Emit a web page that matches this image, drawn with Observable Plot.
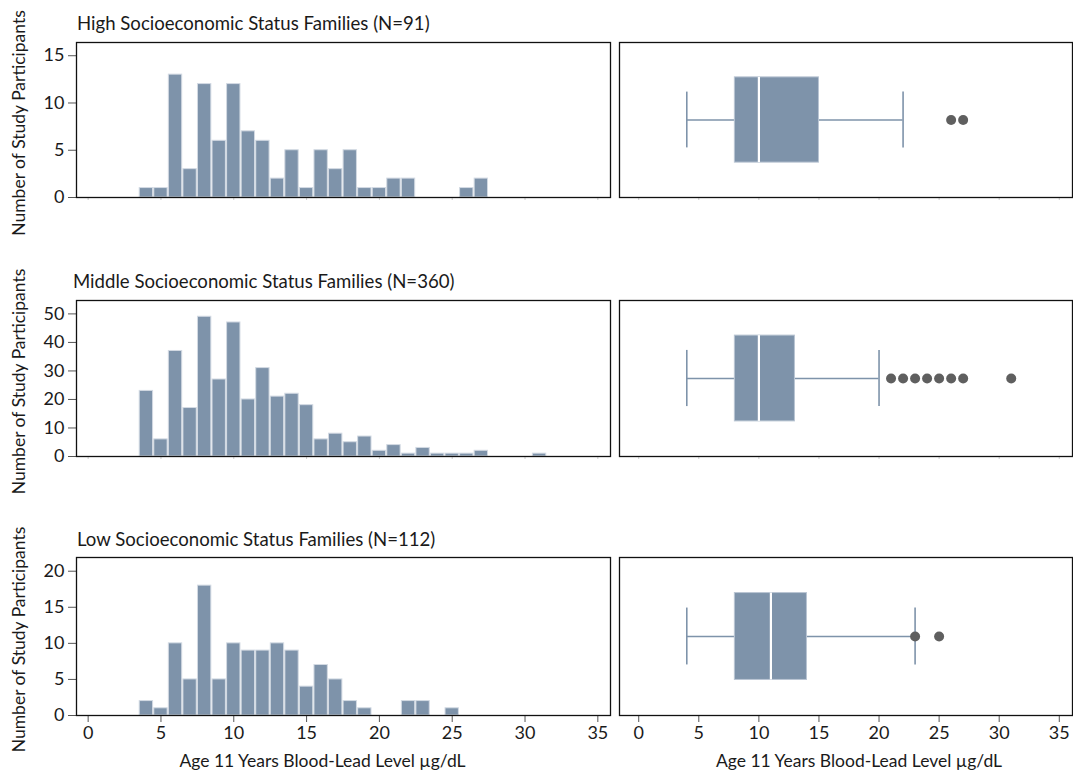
<!DOCTYPE html>
<html>
<head>
<meta charset="utf-8">
<script src="https://cdn.jsdelivr.net/npm/d3@7"></script>
<script src="https://cdn.jsdelivr.net/npm/@observablehq/plot@0.6"></script>
<style>
  html, body { margin: 0; padding: 0; background: #fff; }
  #chart { position: relative; width: 1073px; height: 771px; font-family: Lato, sans-serif; color: #1a1a1a; overflow: hidden; }
  .ttl { position: absolute; font-size: 18.6px; line-height: 20px; white-space: nowrap; }
  .pl { position: absolute; }
</style>
</head>
<body>
<div id="chart"></div>
<script>
// ---------- data ----------
const groupTitles = [
  "High Socioeconomic Status Families (N=91)",
  "Middle Socioeconomic Status Families (N=360)",
  "Low Socioeconomic Status Families (N=112)"
];
const highBins   = [4,5,6,7,8,9,10,11,12,13,14,15,16,17,18,19,20,21,22,26,27];
const highCounts = [1,1,13,3,12,6,12,7,6,2,5,1,5,3,5,1,1,2,2,1,2];
const middleBins   = [4,5,6,7,8,9,10,11,12,13,14,15,16,17,18,19,20,21,22,23,24,25,26,27,31];
const middleCounts = [23,6,37,17,49,27,47,20,31,21,22,18,6,8,5,7,2,4,1,3,1,1,1,2,1];
const lowBins   = [4,5,6,7,8,9,10,11,12,13,14,15,16,17,18,19,22,23,25];
const lowCounts = [2,1,10,5,18,5,10,9,9,10,9,4,7,5,2,1,2,2,1];

const boxLow    = [4, 4, 4];
const boxQ1     = [8, 8, 8];
const boxMedian = [10, 10, 11];
const boxQ3     = [15, 13, 14];
const boxHigh   = [22, 20, 23];
const highOutliers   = [26, 27];
const middleOutliers = [21, 22, 23, 24, 25, 26, 27, 31];
const lowOutliers    = [23, 25];

const yTicks = [[0,5,10,15],[0,10,20,30,40,50],[0,5,10,15,20]];
const xTicks = [0,5,10,15,20,25,30,35];
const yLabel = "Number of Study Participants";
const xLabel = "Age 11 Years Blood-Lead Level µg/dL";

// ---------- layout ----------
const binsAll = [highBins, middleBins, lowBins];
const countsAll = [highCounts, middleCounts, lowCounts];
const outliersAll = [highOutliers, middleOutliers, lowOutliers];
const yMax = [16.4, 54.7, 21.9];
const frameTop = [42, 300, 557];
const frameH = [155, 156, 158];
const titleBaseline = [29.5, 287.5, 546];
const titleLeft = [77, 73, 77];
const MT = 40, MB = 58;
const barFill = "#7e93aa";
const font = {background: "transparent", overflow: "visible", fontFamily: "Lato, sans-serif", fontSize: "18px", color: "#1a1a1a"};

const chart = document.getElementById("chart");

for (let r = 0; r < 3; r++) {
  const t = document.createElement("div");
  t.className = "ttl";
  t.textContent = groupTitles[r];
  t.style.left = titleLeft[r] + "px";
  t.style.top = (titleBaseline[r] - 16.9) + "px";
  chart.appendChild(t);

  const last = r === 2;
  const hist = binsAll[r].map((b, i) => ({bin: b, count: countsAll[r][i]}));

  const xAxisMarks = last
    ? [Plot.axisX({ticks: xTicks, tickSize: 7, tickPadding: 4, label: null, stroke: "#555"}),
       Plot.text([xLabel], {frameAnchor: "bottom", dy: 46, dx: -21, text: d => d, lineAnchor: "middle", textAnchor: "middle", fontSize: 17.5})]
    : [Plot.axisX({ticks: xTicks, tickSize: 3, tickFormat: () => "", label: null, stroke: "#ccc"})];

  const left = Plot.plot({
    width: 612, height: MT + frameH[r] + MB,
    marginLeft: 76, marginRight: 2, marginTop: MT, marginBottom: MB,
    style: font,
    x: {domain: [-0.8, 35.87]},
    y: {domain: [0, yMax[r]]},
    marks: [
      Plot.rectY(hist, {x1: d => d.bin - 0.5, x2: d => d.bin + 0.5, y: "count", fill: barFill, stroke: "#d3dae3", strokeWidth: 1, insetLeft: 0.6, insetRight: 0.6}),
      Plot.axisY({ticks: yTicks[r], tickSize: 8, tickPadding: 4, label: null, stroke: "#555"}),
      ...xAxisMarks,
      Plot.text([yLabel], {frameAnchor: "left", dx: -57, dy: 3, rotate: -90, text: d => d, textAnchor: "middle", lineAnchor: "middle", fontSize: 17.5}),
      Plot.frame({stroke: "#111", strokeWidth: 1.3})
    ]
  });
  left.classList.add("pl");
  left.style.left = "0px";
  left.style.top = (frameTop[r] - MT) + "px";
  chart.appendChild(left);

  const box = [{low: boxLow[r], q1: boxQ1[r], med: boxMedian[r], q3: boxQ3[r], high: boxHigh[r]}];
  const xAxisR = last
    ? [Plot.axisX({ticks: xTicks, tickSize: 7, tickPadding: 4, label: null, stroke: "#555"}),
       Plot.text([xLabel], {frameAnchor: "bottom", dy: 46, dx: 13, text: d => d, lineAnchor: "middle", textAnchor: "middle", fontSize: 17.5})]
    : [Plot.axisX({ticks: xTicks, tickSize: 3, tickFormat: () => "", label: null, stroke: "#ccc"})];

  const right = Plot.plot({
    width: 463, height: MT + frameH[r] + MB,
    marginLeft: 9, marginRight: 1, marginTop: MT, marginBottom: MB,
    style: font,
    x: {domain: [-1.6, 36.1]},
    y: {domain: [0, 1], axis: null},
    marks: [
      Plot.ruleY(box, {y: () => 0.5, x1: "low", x2: "q1", stroke: barFill, strokeWidth: 1.6}),
      Plot.ruleY(box, {y: () => 0.5, x1: "q3", x2: "high", stroke: barFill, strokeWidth: 1.6}),
      Plot.ruleX(box, {x: "low", y1: () => 0.32, y2: () => 0.68, stroke: barFill, strokeWidth: 1.6}),
      Plot.ruleX(box, {x: "high", y1: () => 0.32, y2: () => 0.68, stroke: barFill, strokeWidth: 1.6}),
      Plot.rect(box, {x1: "q1", x2: "q3", y1: () => 0.225, y2: () => 0.775, fill: barFill, stroke: "#b9c5d3", strokeWidth: 1}),
      Plot.ruleX(box, {x: "med", y1: () => 0.225, y2: () => 0.775, stroke: "#ffffff", strokeWidth: 2.2}),
      Plot.dot(outliersAll[r], {x: d => d, y: () => 0.5, r: 5, fill: "#5f5f5f", stroke: "none"}),
      ...xAxisR,
      Plot.frame({stroke: "#111", strokeWidth: 1.3})
    ]
  });
  right.classList.add("pl");
  right.style.left = "610px";
  right.style.top = (frameTop[r] - MT) + "px";
  chart.appendChild(right);
}
</script>
</body>
</html>
